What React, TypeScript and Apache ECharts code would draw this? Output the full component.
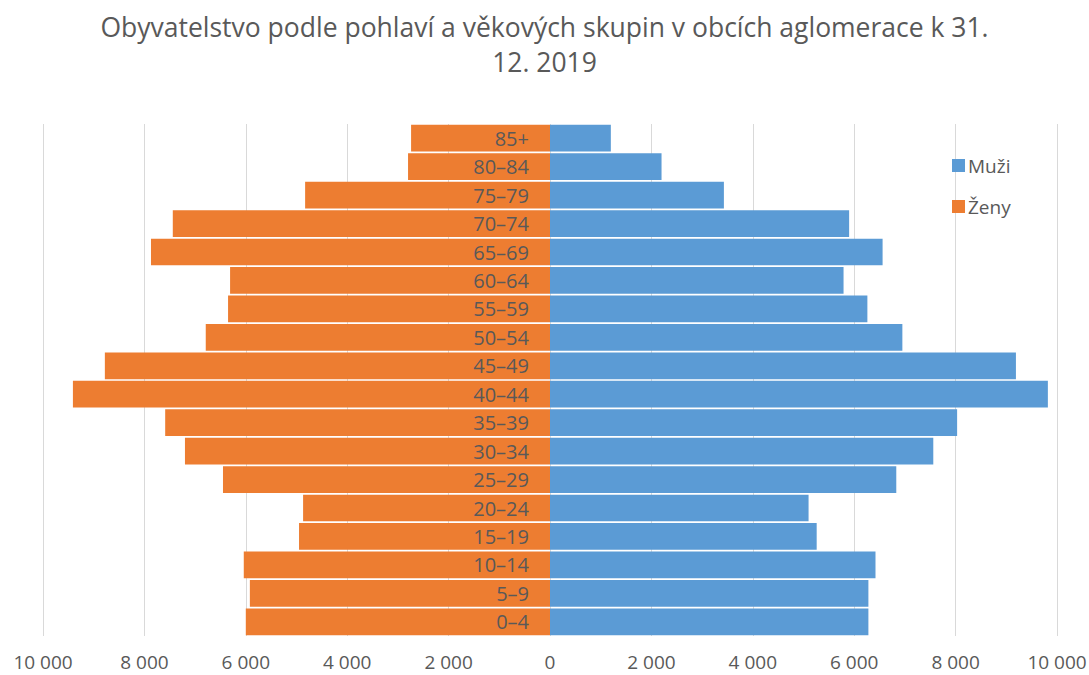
import React, { useEffect, useRef } from "react";
import * as echarts from "echarts";

const categories = ["0–4", "5–9", "10–14", "15–19", "20–24", "25–29", "30–34", "35–39", "40–44", "45–49", "50–54", "55–59", "60–64", "65–69", "70–74", "75–79", "80–84", "85+"];
const muzi = [6280, 6280, 6420, 5260, 5100, 6830, 7560, 8030, 9820, 9190, 6950, 6260, 5790, 6560, 5900, 3430, 2200, 1200];
const zeny = [6000, 5920, 6040, 4950, 4870, 6450, 7200, 7590, 9410, 8780, 6790, 6350, 6310, 7870, 7440, 4830, 2800, 2740];
const xTicks = { min: -10000, max: 10000, interval: 2000 };

const fmt = (v: number) => {
  const a = Math.abs(Math.round(v));
  return String(a).replace(/\B(?=(\d{3})+(?!\d))/g, " ");
};

const GRID_LEFT = 43;
const GRID_RIGHT = 32;
const WIDTH = 1089;

export default function App() {
  const ref = useRef<HTMLDivElement>(null);
  useEffect(() => {
    if (!ref.current) return;
    const chart = echarts.init(ref.current, undefined, { renderer: "svg" });
    const font = "'Open Sans', 'Liberation Sans', sans-serif";
    const zeroOffset = (WIDTH - GRID_LEFT - GRID_RIGHT) / 2;
    chart.setOption({
      animation: false,
      textStyle: { fontFamily: font },
      title: {
        text: "Obyvatelstvo podle pohlaví a věkových skupin v obcích aglomerace k 31.\n12. 2019",
        left: "center",
        top: 4,
        textStyle: { fontSize: 26.5, fontWeight: "normal", color: "#595959", lineHeight: 35, fontFamily: font },
      },
      legend: {
        orient: "vertical",
        left: 947,
        top: 151,
        itemGap: 22,
        itemWidth: 13,
        itemHeight: 13,
        icon: "rect",
        textStyle: { fontSize: 19, color: "#595959", fontFamily: font, padding: [0, 0, 0, -2] },
        data: ["Muži", "Ženy"],
      },
      grid: { left: GRID_LEFT, right: GRID_RIGHT, top: 124, bottom: 39, containLabel: false, outerBoundsMode: "none" },
      xAxis: {
        type: "value",
        min: xTicks.min,
        max: xTicks.max,
        interval: xTicks.interval,
        axisLine: { show: false },
        axisTick: { show: false },
        splitLine: { show: true, lineStyle: { color: "#d9d9d9", width: 1 } },
        axisLabel: { formatter: fmt, fontSize: 19, color: "#595959", margin: 16, fontFamily: font },
      },
      yAxis: {
        type: "category",
        data: categories,
        position: "left",
        offset: -zeroOffset,
        z: 10,
        axisLine: { show: false, onZero: false },
        axisTick: { show: false },
        axisLabel: { fontSize: 20, color: "#595959", margin: 21, fontFamily: font },
      },
      series: [
        {
          name: "Muži",
          type: "bar",
          stack: "a",
          data: muzi,
          barCategoryGap: "6%",
          itemStyle: { color: "#5b9bd5" },
        },
        {
          name: "Ženy",
          type: "bar",
          stack: "a",
          data: zeny.map((v) => -v),
          barCategoryGap: "6%",
          itemStyle: { color: "#ed7d31" },
        },
      ],
    });
    return () => chart.dispose();
  }, []);
  return <div ref={ref} style={{ width: 1089, height: 675, position: "absolute", left: 0, top: 0 }} />;
}
